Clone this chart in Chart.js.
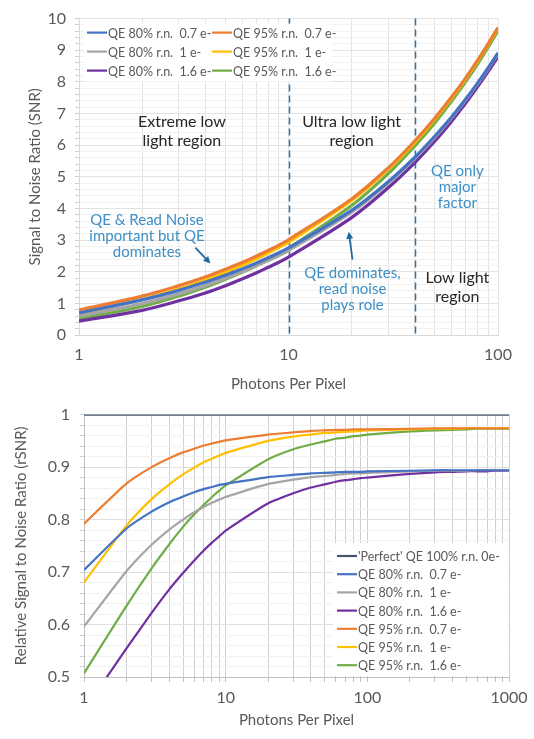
<!DOCTYPE html>
<html lang="en">
<head>
<meta charset="UTF-8" />
<title>SNR and relative SNR vs photons per pixel</title>
<style>
  body { margin: 0; background: #fff; }
  canvas { display: block; }
</style>
</head>
<body>
<canvas id="snrChart" width="534" height="395"></canvas>
<canvas id="rsnrChart" width="534" height="344"></canvas>

<script src="https://cdn.jsdelivr.net/npm/chart.js"></script>
<script>
// ---- data ----
const photonsTop = [1, 2, 3, 4, 5, 6, 7, 8, 9, 10, 20, 30, 40, 50, 60, 70, 80, 90, 100];
const snr80_07 = [0.70, 1.11, 1.41, 1.67, 1.89, 2.09, 2.27, 2.44, 2.60, 2.75, 3.94, 4.85, 5.61, 6.29, 6.89, 7.45, 7.97, 8.46, 8.92];
const snr80_10 = [0.60, 0.99, 1.30, 1.56, 1.79, 1.99, 2.18, 2.35, 2.51, 2.67, 3.88, 4.80, 5.57, 6.25, 6.86, 7.42, 7.94, 8.43, 8.89];
const snr80_16 = [0.44, 0.78, 1.08, 1.33, 1.56, 1.77, 1.96, 2.14, 2.30, 2.46, 3.71, 4.66, 5.44, 6.13, 6.75, 7.32, 7.85, 8.34, 8.80];
const snr95_07 = [0.79, 1.23, 1.56, 1.83, 2.08, 2.29, 2.49, 2.67, 2.84, 3.01, 4.30, 5.29, 6.13, 6.86, 7.52, 8.12, 8.69, 9.22, 9.72];
const snr95_10 = [0.68, 1.12, 1.45, 1.73, 1.98, 2.20, 2.40, 2.59, 2.77, 2.93, 4.25, 5.25, 6.08, 6.82, 7.48, 8.09, 8.66, 9.19, 9.70];
const snr95_16 = [0.51, 0.90, 1.23, 1.51, 1.76, 1.98, 2.19, 2.38, 2.57, 2.74, 4.09, 5.11, 5.97, 6.71, 7.39, 8.00, 8.57, 9.11, 9.62];

const photonsBottom = [1, 2, 3, 4, 5, 6, 7, 8, 9, 10, 20, 30, 40, 50, 60, 70, 80, 90, 100,
  200, 300, 400, 500, 600, 700, 800, 900, 1000];
const rsnrPerfect = [1, 1, 1, 1, 1, 1, 1, 1, 1, 1, 1, 1, 1, 1, 1, 1, 1, 1, 1, 1, 1, 1, 1, 1, 1, 1, 1, 1];
const rsnr80_07 = [0.704, 0.783, 0.815, 0.833, 0.844, 0.852, 0.858, 0.862, 0.866, 0.868, 0.881, 0.885, 0.888, 0.889,
  0.890, 0.891, 0.891, 0.891, 0.892, 0.893, 0.894, 0.894, 0.894, 0.894, 0.894, 0.894, 0.894, 0.894];
const rsnr80_10 = [0.596, 0.702, 0.752, 0.781, 0.800, 0.814, 0.824, 0.832, 0.838, 0.843, 0.868, 0.876, 0.881, 0.883,
  0.885, 0.887, 0.888, 0.888, 0.889, 0.892, 0.893, 0.893, 0.893, 0.894, 0.894, 0.894, 0.894, 0.894];
const rsnr80_16 = [0.436, 0.555, 0.622, 0.667, 0.698, 0.722, 0.741, 0.756, 0.768, 0.779, 0.831, 0.850, 0.861, 0.867,
  0.872, 0.875, 0.877, 0.879, 0.880, 0.887, 0.890, 0.891, 0.892, 0.892, 0.892, 0.893, 0.893, 0.893];
const rsnr95_07 = [0.792, 0.869, 0.900, 0.917, 0.928, 0.935, 0.941, 0.945, 0.948, 0.951, 0.962, 0.966, 0.969, 0.970,
  0.971, 0.971, 0.972, 0.972, 0.972, 0.973, 0.974, 0.974, 0.974, 0.974, 0.974, 0.974, 0.974, 0.974];
const rsnr95_10 = [0.680, 0.789, 0.839, 0.867, 0.886, 0.899, 0.909, 0.916, 0.922, 0.927, 0.950, 0.958, 0.962, 0.965,
  0.966, 0.967, 0.968, 0.969, 0.970, 0.972, 0.973, 0.973, 0.974, 0.974, 0.974, 0.974, 0.974, 0.974];
const rsnr95_16 = [0.507, 0.636, 0.707, 0.753, 0.786, 0.810, 0.828, 0.843, 0.855, 0.865, 0.915, 0.934, 0.943, 0.949,
  0.954, 0.956, 0.959, 0.960, 0.962, 0.968, 0.970, 0.971, 0.972, 0.973, 0.973, 0.973, 0.973, 0.973];

const seriesNames = ["QE 80% r.n.  0.7 e-", "QE 80% r.n.  1 e-", "QE 80% r.n.  1.6 e-",
  "QE 95% r.n.  0.7 e-", "QE 95% r.n.  1 e-", "QE 95% r.n.  1.6 e-"];
const perfectName = "'Perfect' QE 100% r.n. 0e-";
const topXTicks = [1, 2, 3, 4, 5, 6, 7, 8, 9, 10, 20, 30, 40, 50, 60, 70, 80, 90, 100];
const bottomXTicks = [1, 2, 3, 4, 5, 6, 7, 8, 9, 10, 20, 30, 40, 50, 60, 70, 80, 90, 100,
  200, 300, 400, 500, 600, 700, 800, 900, 1000];
const regionLines = [10, 40];

const colors = ["#4472C4", "#A5A5A5", "#7030A0", "#ED7D31", "#FFC000", "#70AD47"];
const perfectColor = "#44546A";
const FONT = "Lato, 'Open Sans', sans-serif";
const TEXT = "#595959";
const BLUE = "#3d8fc6";

const isPow10 = (v) => Math.abs(Math.log10(v) - Math.round(Math.log10(v))) < 1e-6;

function makeLine(label, data, color, width, tension) {
  return { label, data, borderColor: color, backgroundColor: color, borderWidth: width,
    pointRadius: 0, tension, fill: false };
}

function drawLegend(ctx, x, y, items, colW, rowH, perCol) {
  ctx.save();
  ctx.font = "12.5px " + FONT;
  ctx.textBaseline = "middle";
  items.forEach((it, i) => {
    const cx = x + Math.floor(i / perCol) * colW;
    const cy = y + (i % perCol) * rowH;
    ctx.strokeStyle = it.color;
    ctx.lineWidth = 2.2;
    ctx.beginPath();
    ctx.moveTo(cx, cy);
    ctx.lineTo(cx + 20, cy);
    ctx.stroke();
    ctx.fillStyle = TEXT;
    ctx.fillText(it.text, cx + 21, cy + 1);
  });
  ctx.restore();
}

function drawText(ctx, lines, px, py, color, size, lh) {
  ctx.save();
  ctx.font = size + "px " + FONT;
  ctx.fillStyle = color;
  ctx.textAlign = "center";
  ctx.textBaseline = "middle";
  lines.forEach((t, i) => ctx.fillText(t, px, py + i * lh));
  ctx.restore();
}

function drawArrow(ctx, x1, y1, x2, y2) {
  const a = Math.atan2(y2 - y1, x2 - x1);
  ctx.save();
  ctx.strokeStyle = "#1f6a9e";
  ctx.fillStyle = "#1f6a9e";
  ctx.lineWidth = 1.8;
  ctx.beginPath();
  ctx.moveTo(x1, y1);
  ctx.lineTo(x2 - 5 * Math.cos(a), y2 - 5 * Math.sin(a));
  ctx.stroke();
  ctx.beginPath();
  ctx.moveTo(x2, y2);
  ctx.lineTo(x2 - 7 * Math.cos(a) + 3.5 * Math.sin(a), y2 - 7 * Math.sin(a) - 3.5 * Math.cos(a));
  ctx.lineTo(x2 - 7 * Math.cos(a) - 3.5 * Math.sin(a), y2 - 7 * Math.sin(a) + 3.5 * Math.cos(a));
  ctx.closePath();
  ctx.fill();
  ctx.restore();
}

// ---- top chart: SNR ----
const topExtras = {
  id: "topExtras",
  beforeDatasetsDraw(chart) {
    const { ctx, chartArea, scales: { x, y } } = chart;
    ctx.save();
    ctx.strokeStyle = "#2f74a8";
    ctx.lineWidth = 1.5;
    ctx.setLineDash([7, 4]);
    regionLines.forEach((v) => {
      const px = Math.round(x.getPixelForValue(v)) + 0.5;
      ctx.beginPath();
      ctx.moveTo(px, chartArea.top);
      ctx.lineTo(px, chartArea.bottom);
      ctx.stroke();
    });
    ctx.restore();
    // legend box
    ctx.save();
    ctx.fillStyle = "#fff";
    ctx.fillRect(chartArea.left + 5, chartArea.top + 5, 248, 58);
    ctx.restore();
    const items = seriesNames.map((t, i) => ({ text: t, color: colors[i] }));
    drawLegend(ctx, chartArea.left + 8, chartArea.top + 14, items, 125, 19, 3);

    const P = (xv, yv) => [x.getPixelForValue(xv), y.getPixelForValue(yv)];
    let p = P(3.1, 6.74); drawText(ctx, ["Extreme low", "light region"], p[0], p[1], "#262626", 16, 19);
    p = P(20, 6.74); drawText(ctx, ["Ultra low light", "region"], p[0], p[1], "#262626", 16, 19);
    p = P(64, 1.82); drawText(ctx, ["Low light", "region"], p[0], p[1], "#262626", 16, 19);
    p = P(64, 5.17); drawText(ctx, ["QE only", "major", "factor"], p[0], p[1], BLUE, 15, 16);
    p = P(2.11, 3.64); drawText(ctx, ["QE & Read Noise", "important but QE", "dominates"], p[0], p[1], BLUE, 15, 16);
    p = P(20.2, 1.97); drawText(ctx, ["QE dominates,", "read noise", "plays role"], p[0], p[1], BLUE, 15, 16);
    let a = P(3.59, 2.76), b = P(4.24, 2.26);
    drawArrow(ctx, a[0], a[1], b[0], b[1]);
    a = P(20.2, 2.38); b = P(19.4, 3.26);
    drawArrow(ctx, a[0], a[1], b[0], b[1]);
  }
};

new Chart(document.getElementById("snrChart"), {
  type: "line",
  data: {
    labels: photonsTop,
    datasets: [snr80_07, snr80_10, snr80_16, snr95_07, snr95_10, snr95_16].map((d, i) =>
      makeLine(seriesNames[i], d.map((v, k) => ({ x: photonsTop[k], y: v })), colors[i], 3.2, 0.35))
  },
  options: {
    responsive: false,
    animation: false,
    layout: { padding: { top: 16, right: 36, left: 0, bottom: 0 } },
    plugins: { legend: { display: false }, tooltip: { enabled: false } },
    scales: {
      x: {
        type: "logarithmic", min: 1, max: 100,
        afterBuildTicks: (s) => { s.ticks = topXTicks.map((v) => ({ value: v })); },
        afterFit: (s) => { s.height = 60; },
        ticks: { autoSkip: false, maxRotation: 0, padding: 10, color: TEXT, font: { family: FONT, size: 16 },
          callback: (v) => (isPow10(v) ? String(v) : "") },
        grid: { color: "#e3e3e3", drawTicks: false },
        border: { color: "#d9d9d9" },
        title: { display: true, text: "Photons Per Pixel", color: TEXT, font: { family: FONT, size: 15 },
          padding: { top: 0, bottom: 2 } }
      },
      y: {
        min: 0, max: 10,
        afterBuildTicks: (s) => { const t = []; for (let i = 0; i <= 50; i++) t.push({ value: i / 5 }); s.ticks = t; },
        afterFit: (s) => { s.width = 79; },
        ticks: { autoSkip: false, padding: 9, color: TEXT, font: { family: FONT, size: 16 },
          callback: (v) => (Math.abs(v - Math.round(v)) < 1e-6 ? String(Math.round(v)) : "") },
        grid: { color: (c) => (Math.abs(c.tick.value - Math.round(c.tick.value)) < 1e-6 ? "#e3e3e3" : "#f2f2f2"),
          tickLength: 4, tickColor: "#d0d0d0" },
        border: { color: "#d9d9d9" },
        title: { display: true, text: "Signal to Noise Ratio (SNR)", color: TEXT, font: { family: FONT, size: 15 },
          padding: { top: 26, bottom: 0 } }
      }
    }
  },
  plugins: [topExtras]
});

// ---- bottom chart: relative SNR ----
const bottomExtras = {
  id: "bottomExtras",
  afterDatasetsDraw(chart) {
    const { ctx, chartArea } = chart;
    const bx = chartArea.right - 176, by = chartArea.bottom - 134;
    ctx.save();
    ctx.fillStyle = "#fff";
    ctx.fillRect(bx, by, 175, 133);
    ctx.restore();
    const items = [{ text: perfectName, color: perfectColor }]
      .concat(seriesNames.map((t, i) => ({ text: t, color: colors[i] })));
    drawLegend(ctx, bx + 4, by + 13, items, 0, 18.2, 7);
  }
};

new Chart(document.getElementById("rsnrChart"), {
  type: "line",
  data: {
    labels: photonsBottom,
    datasets: [makeLine(perfectName, rsnrPerfect.map((v, k) => ({ x: photonsBottom[k], y: v })), perfectColor, 2.2, 0)]
      .concat([rsnr80_07, rsnr80_10, rsnr80_16, rsnr95_07, rsnr95_10, rsnr95_16].map((d, i) =>
        makeLine(seriesNames[i], d.map((v, k) => ({ x: photonsBottom[k], y: v })), colors[i], 2.2, 0.2)))
  },
  options: {
    responsive: false,
    animation: false,
    layout: { padding: { top: 17, right: 25, left: 0, bottom: 0 } },
    plugins: { legend: { display: false }, tooltip: { enabled: false } },
    scales: {
      x: {
        type: "logarithmic", min: 1, max: 1000,
        afterBuildTicks: (s) => { s.ticks = bottomXTicks.map((v) => ({ value: v })); },
        afterFit: (s) => { s.height = 62; },
        ticks: { autoSkip: false, maxRotation: 0, padding: 6, color: TEXT, font: { family: FONT, size: 16 },
          callback: (v) => (isPow10(v) ? String(v) : "") },
        grid: { color: "#cfcfcf", tickLength: 5, tickColor: "#bfbfbf" },
        border: { color: "#bfbfbf" },
        title: { display: true, text: "Photons Per Pixel", color: TEXT, font: { family: FONT, size: 15 },
          padding: { top: 0, bottom: 10 } }
      },
      y: {
        min: 0.5, max: 1,
        afterBuildTicks: (s) => { const t = []; for (let i = 25; i <= 50; i++) t.push({ value: i / 50 }); s.ticks = t; },
        afterFit: (s) => { s.width = 84; },
        ticks: { autoSkip: false, padding: 10, color: TEXT, font: { family: FONT, size: 16 },
          callback: (v) => {
            const tenth = Math.round(v * 10);
            if (Math.abs(v * 10 - tenth) > 1e-6) return "";
            return tenth === 10 ? "1" : (tenth / 10).toFixed(1);
          } },
        grid: { color: (c) => (Math.abs(c.tick.value * 10 - Math.round(c.tick.value * 10)) < 1e-6 ? "#e0e0e0" : "#f1f1f1"),
          tickLength: 4, tickColor: "#d0d0d0" },
        border: { color: "#bfbfbf" },
        title: { display: true, text: "Relative Signal to Noise Ratio (rSNR)", color: TEXT, font: { family: FONT, size: 15 },
          padding: { top: 12, bottom: 0 } }
      }
    }
  },
  plugins: [bottomExtras]
});
</script>
</body>
</html>
